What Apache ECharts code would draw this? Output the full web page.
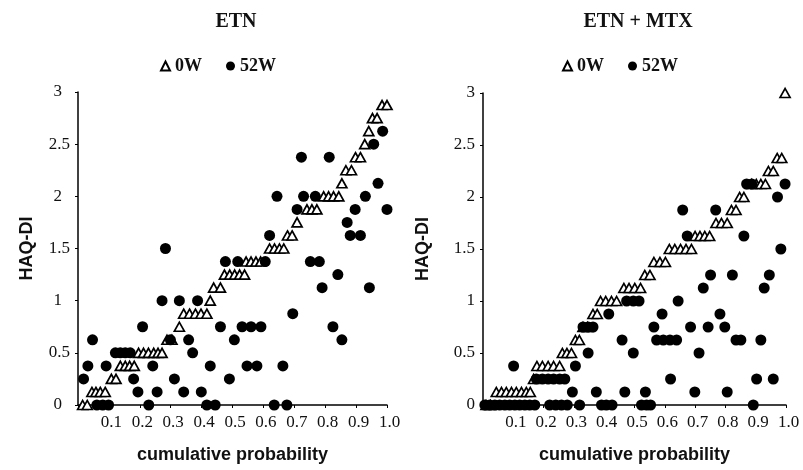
<!DOCTYPE html>
<html>
<head>
<meta charset="utf-8">
<script src="https://cdn.jsdelivr.net/npm/echarts@6.0.0/dist/echarts.min.js"></script>
<style>
  html, body { margin: 0; padding: 0; background: #fff; }
  #main { width: 803px; height: 470px; }
</style>
</head>
<body>
<div id="main"></div>
<script>
// panel titles and legend names
var panelTitles = ['ETN', 'ETN + MTX'];
var weekNames = ['0W', '52W'];
var yTicks = [0, 0.5, 1, 1.5, 2, 2.5, 3];

// ETN, 0W  [cumulative probability, HAQ-DI]
var etnWeek0 = [
    [0.015, 0], [0.03, 0],
    [0.045, 0.125], [0.058, 0.125], [0.072, 0.125], [0.088, 0.125],
    [0.108, 0.25], [0.123, 0.25],
    [0.137, 0.375], [0.153, 0.375], [0.167, 0.375], [0.182, 0.375],
    [0.196, 0.5], [0.212, 0.5], [0.228, 0.5], [0.245, 0.5], [0.259, 0.5], [0.272, 0.5],
    [0.288, 0.625], [0.304, 0.625],
    [0.328, 0.75],
    [0.342, 0.875], [0.361, 0.875], [0.380, 0.875], [0.398, 0.875], [0.417, 0.875],
    [0.428, 1],
    [0.439, 1.125], [0.461, 1.125],
    [0.474, 1.25], [0.491, 1.25], [0.507, 1.25], [0.523, 1.25], [0.539, 1.25],
    [0.544, 1.375], [0.560, 1.375], [0.576, 1.375], [0.591, 1.375],
    [0.620, 1.5], [0.636, 1.5], [0.652, 1.5], [0.666, 1.5],
    [0.678, 1.625], [0.693, 1.625],
    [0.709, 1.75],
    [0.741, 1.875], [0.757, 1.875], [0.773, 1.875],
    [0.795, 2], [0.811, 2], [0.827, 2], [0.844, 2],
    [0.854, 2.125],
    [0.867, 2.25], [0.885, 2.25],
    [0.898, 2.375], [0.914, 2.375],
    [0.928, 2.5],
    [0.941, 2.625],
    [0.953, 2.75], [0.968, 2.75],
    [0.984, 2.875], [1.0, 2.875]
];

// ETN, 52W
var etnWeek52 = [
    [0.061, 0], [0.080, 0], [0.099, 0], [0.229, 0], [0.417, 0], [0.444, 0], [0.635, 0], [0.676, 0],
    [0.194, 0.125], [0.256, 0.125], [0.342, 0.125], [0.399, 0.125],
    [0.018, 0.25], [0.180, 0.25], [0.312, 0.25], [0.490, 0.25],
    [0.032, 0.375], [0.091, 0.375], [0.242, 0.375], [0.428, 0.375], [0.547, 0.375], [0.579, 0.375], [0.663, 0.375],
    [0.121, 0.5], [0.137, 0.5], [0.153, 0.5], [0.169, 0.5], [0.371, 0.5],
    [0.047, 0.625], [0.299, 0.625], [0.358, 0.625], [0.506, 0.625], [0.854, 0.625],
    [0.209, 0.75], [0.461, 0.75], [0.531, 0.75], [0.560, 0.75], [0.592, 0.75], [0.825, 0.75],
    [0.695, 0.875],
    [0.272, 1], [0.328, 1], [0.387, 1],
    [0.790, 1.125], [0.943, 1.125],
    [0.841, 1.25],
    [0.477, 1.375], [0.517, 1.375], [0.606, 1.375], [0.752, 1.375], [0.781, 1.375],
    [0.283, 1.5],
    [0.620, 1.625], [0.881, 1.625], [0.914, 1.625],
    [0.871, 1.75],
    [0.709, 1.875], [0.897, 1.875], [1.0, 1.875],
    [0.644, 2], [0.730, 2], [0.768, 2], [0.930, 2],
    [0.971, 2.125],
    [0.723, 2.375], [0.813, 2.375],
    [0.957, 2.5],
    [0.986, 2.625]
];

// ETN + MTX, 0W
var mtxWeek0 = [
    [0.01, 0], [0.025, 0],
    [0.044, 0.125], [0.061, 0.125], [0.077, 0.125], [0.094, 0.125], [0.110, 0.125], [0.127, 0.125], [0.143, 0.125], [0.156, 0.125],
    [0.167, 0.25],
    [0.178, 0.375], [0.196, 0.375], [0.215, 0.375], [0.233, 0.375], [0.253, 0.375],
    [0.262, 0.5], [0.277, 0.5], [0.292, 0.5],
    [0.305, 0.625], [0.318, 0.625],
    [0.330, 0.75], [0.345, 0.75],
    [0.363, 0.875], [0.377, 0.875],
    [0.388, 1], [0.405, 1], [0.424, 1], [0.441, 1],
    [0.465, 1.125], [0.482, 1.125], [0.501, 1.125], [0.520, 1.125],
    [0.534, 1.25], [0.551, 1.25],
    [0.564, 1.375], [0.584, 1.375], [0.602, 1.375],
    [0.615, 1.5], [0.633, 1.5], [0.652, 1.5], [0.670, 1.5], [0.688, 1.5],
    [0.700, 1.625], [0.716, 1.625], [0.732, 1.625], [0.748, 1.625],
    [0.769, 1.75], [0.787, 1.75], [0.806, 1.75],
    [0.820, 1.875], [0.835, 1.875],
    [0.847, 2], [0.861, 2],
    [0.887, 2.125], [0.902, 2.125], [0.917, 2.125], [0.932, 2.125],
    [0.942, 2.25], [0.958, 2.25],
    [0.971, 2.375], [0.986, 2.375],
    [0.997, 3]
];

// ETN + MTX, 52W
var mtxWeek52 = [
    [0.006, 0], [0.022, 0], [0.039, 0], [0.055, 0], [0.072, 0], [0.088, 0], [0.105, 0], [0.121, 0], [0.138, 0], [0.154, 0], [0.171, 0],
    [0.220, 0], [0.240, 0], [0.259, 0], [0.278, 0], [0.319, 0], [0.391, 0], [0.407, 0], [0.426, 0],
    [0.523, 0], [0.540, 0], [0.553, 0], [0.892, 0],
    [0.295, 0.125], [0.374, 0.125], [0.468, 0.125], [0.536, 0.125], [0.699, 0.125], [0.806, 0.125],
    [0.176, 0.25], [0.196, 0.25], [0.215, 0.25], [0.233, 0.25], [0.253, 0.25], [0.270, 0.25], [0.619, 0.25], [0.903, 0.25], [0.958, 0.25],
    [0.101, 0.375], [0.305, 0.375],
    [0.347, 0.5], [0.496, 0.5], [0.713, 0.5],
    [0.459, 0.625], [0.573, 0.625], [0.595, 0.625], [0.617, 0.625], [0.639, 0.625], [0.835, 0.625], [0.851, 0.625], [0.917, 0.625],
    [0.330, 0.75], [0.347, 0.75], [0.363, 0.75], [0.564, 0.75], [0.685, 0.75], [0.743, 0.75], [0.798, 0.75],
    [0.415, 0.875], [0.591, 0.875], [0.782, 0.875],
    [0.474, 1], [0.496, 1], [0.515, 1], [0.644, 1],
    [0.727, 1.125], [0.928, 1.125],
    [0.751, 1.25], [0.823, 1.25], [0.945, 1.25],
    [0.983, 1.5],
    [0.674, 1.625], [0.861, 1.625],
    [0.659, 1.875], [0.768, 1.875],
    [0.972, 2],
    [0.870, 2.125], [0.887, 2.125], [0.997, 2.125]
];

var serif = '"Liberation Serif", "Times New Roman", serif';
var sans = '"Liberation Sans", Arial, sans-serif';
var ink = '#111';

function xAxisFor(idx) {
    return {
        type: 'value', gridIndex: idx, min: 0, max: 1, interval: 0.1,
        name: 'cumulative probability', nameLocation: 'middle', nameGap: 41,
        nameTextStyle: { fontFamily: sans, fontWeight: 'bold', fontSize: 18, color: ink },
        axisLine: { lineStyle: { color: '#000', width: 1.5 } },
        axisTick: { show: true, length: 3, lineStyle: { color: '#000' } },
        splitLine: { show: false },
        axisLabel: {
            margin: 9, fontFamily: serif, fontSize: 17, color: ink, padding: [0, 0, 0, 5],
            formatter: function (v) { return v === 0 ? '' : v.toFixed(1); }
        }
    };
}

function yAxisFor(idx, gap, pad) {
    return {
        type: 'value', gridIndex: idx, min: 0, max: 3, interval: 0.5,
        name: 'HAQ-DI', nameLocation: 'middle', nameGap: gap,
        nameTextStyle: { fontFamily: sans, fontWeight: 'bold', fontSize: 18, color: ink },
        axisLine: { show: true, lineStyle: { color: '#000', width: 1.5 } },
        axisTick: { show: true, length: 3, lineStyle: { color: '#000' } },
        splitLine: { show: false },
        axisLabel: {
            margin: 8, fontFamily: serif, fontSize: 17, color: ink,
            formatter: function (v) {
                return yTicks.indexOf(v) >= 0 && v % 1 === 0 ? '{i|' + v + '}' : String(v);
            },
            rich: { i: { fontFamily: serif, fontSize: 17, color: ink, padding: [0, pad, 0, 0] } }
        }
    };
}

function week0(name, idx, data) {
    return {
        name: name, type: 'scatter', xAxisIndex: idx, yAxisIndex: idx, data: data,
        symbol: 'triangle', symbolSize: [10, 9], z: 2,
        itemStyle: { color: '#fff', borderColor: '#000', borderWidth: 1.7, opacity: 1 }
    };
}

function week52(name, idx, data) {
    return {
        name: name, type: 'scatter', xAxisIndex: idx, yAxisIndex: idx, data: data,
        symbol: 'circle', symbolSize: 11, z: 3,
        itemStyle: { color: '#000', opacity: 1 }
    };
}

var legendText = { fontFamily: serif, fontWeight: 'bold', fontSize: 18, color: ink };

var chart = echarts.init(document.getElementById('main'));
var option = {
    backgroundColor: '#fff',
    animation: false,
    graphic: [
        { type: 'text', x: 236, y: 22, style: { text: panelTitles[0], font: 'bold 20px ' + serif, fill: ink, align: 'center', verticalAlign: 'middle' } },
        { type: 'text', x: 638, y: 22, style: { text: panelTitles[1], font: 'bold 20px ' + serif, fill: ink, align: 'center', verticalAlign: 'middle' } }
    ],
    legend: [
        { data: weekNames, left: 155, top: 52, itemWidth: 9, itemHeight: 9, itemGap: 24, textStyle: legendText, selectedMode: false },
        { data: weekNames, left: 557, top: 52, itemWidth: 9, itemHeight: 9, itemGap: 24, textStyle: legendText, selectedMode: false }
    ],
    grid: [
        { left: 78, top: 92, width: 309, height: 313 },
        { left: 483, top: 93, width: 303, height: 312 }
    ],
    xAxis: [xAxisFor(0), xAxisFor(1)],
    yAxis: [yAxisFor(0, 42, 8), yAxisFor(1, 51, 0)],
    series: [
        week0(weekNames[0], 0, etnWeek0),
        week52(weekNames[1], 0, etnWeek52),
        week0(weekNames[0], 1, mtxWeek0),
        week52(weekNames[1], 1, mtxWeek52)
    ]
};
chart.setOption(option);
</script>
</body>
</html>
